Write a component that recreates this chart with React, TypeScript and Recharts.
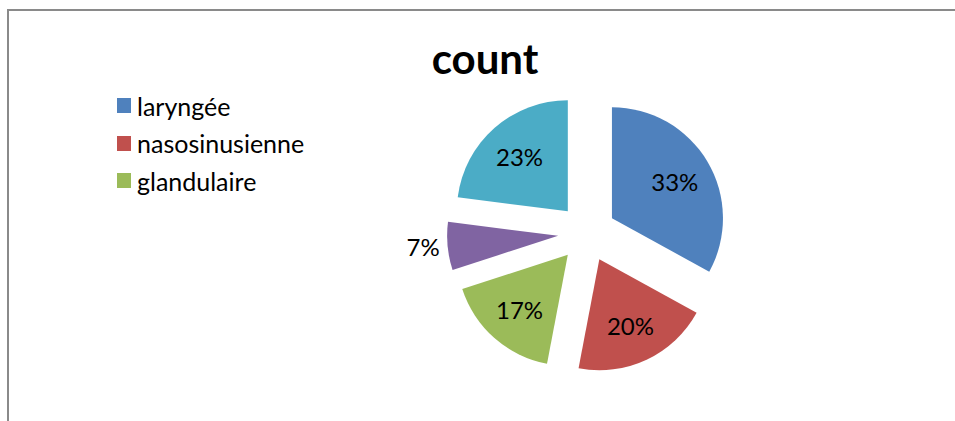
import { PieChart, Pie, Cell, Legend, Sector } from "recharts"

const categories = ["laryngée", "nasosinusienne", "glandulaire", "autre", "autres"]
const values = [33, 20, 17, 7, 23]
const legendItems = ["laryngée", "nasosinusienne", "glandulaire"]
const colors = ["#4F81BD", "#C0504D", "#9BBB59", "#8064A2", "#4BACC6"]

const data = categories.map((name, i) => ({ name, value: values[i] }))

const RADIAN = Math.PI / 180
const EXPLODE = 29
const FONT = "Lato, 'Noto Sans', sans-serif"

const renderSlice = (props: any) => {
  const { cx, cy, outerRadius, startAngle, endAngle, midAngle, percent, index } = props
  const dx = Math.cos(-midAngle * RADIAN)
  const dy = Math.sin(-midAngle * RADIAN)
  const ox = cx + EXPLODE * dx
  const oy = cy + EXPLODE * dy
  const inside = percent >= 0.1
  const lr = inside ? 73 : outerRadius + 8
  return (
    <g key={`slice-${index}`}>
      <Sector
        cx={ox}
        cy={oy}
        innerRadius={0}
        outerRadius={outerRadius}
        startAngle={startAngle}
        endAngle={endAngle}
        fill={colors[index]}
        stroke="none"
      />
      <text
        x={ox + lr * dx}
        y={oy + lr * dy}
        textAnchor={inside ? "middle" : "end"}
        dominantBaseline="central"
        fill="#000"
        fontSize={24}
        fontFamily={FONT}
      >
        {`${Math.round(percent * 100)}%`}
      </text>
    </g>
  )
}

const renderLegend = () => (
  <div style={{ fontFamily: FONT, fontSize: 25, color: "#000" }}>
    {legendItems.map((name, i) => (
      <div key={name} style={{ display: "flex", alignItems: "center", height: 37.5 }}>
        <span style={{ width: 14, height: 15, background: colors[i], marginRight: 6, display: "inline-block" }} />
        <span>{name}</span>
      </div>
    ))}
  </div>
)

export default function App() {
  return (
    <div style={{ position: "absolute", left: 0, top: 0, width: 955, height: 421, overflow: "hidden", background: "#fff" }}>
      <div
        style={{
          position: "absolute",
          left: 7,
          top: 9,
          width: 960,
          height: 420,
          borderTop: "2px solid #8a8a8a",
          borderLeft: "2px solid #8a8a8a",
        }}
      />
      <div
        style={{
          position: "absolute",
          left: 0,
          width: 970,
          top: 33,
          textAlign: "center",
          fontFamily: FONT,
          fontWeight: "bold",
          fontSize: 42,
          lineHeight: "50px",
          color: "#000",
        }}
      >
        count
      </div>
      <div style={{ position: "absolute", left: 0, top: 0 }}>
        <PieChart width={955} height={421} margin={{ top: 0, right: 0, bottom: 0, left: 0 }}>
          <Pie
            data={data}
            dataKey="value"
            nameKey="name"
            cx={587}
            cy={233}
            outerRadius={111}
            startAngle={90}
            endAngle={-270}
            label={renderSlice}
            labelLine={false}
            isAnimationActive={false}
          >
            {data.map((d) => (
              <Cell key={d.name} fill="none" stroke="none" />
            ))}
          </Pie>
          <Legend
            layout="vertical"
            align="center"
            verticalAlign="middle"
            content={renderLegend}
            wrapperStyle={{ left: 117, top: 87, width: 220 }}
          />
        </PieChart>
      </div>
    </div>
  )
}
